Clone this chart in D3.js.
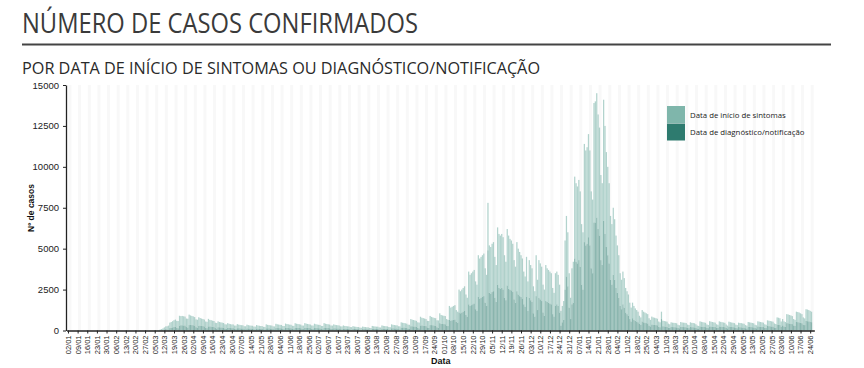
<!DOCTYPE html>
<html>
<head>
<meta charset="utf-8">
<script src="https://cdn.jsdelivr.net/npm/d3@7"></script>
<style>
  body { margin: 0; background: #fff; }
  svg { display: block; }
</style>
</head>
<body>
<svg id="chart"></svg>
<script>
// daily counts from 02/03/2020, one line per week (Mon..Sun)
const firstDay = "2020-03-02"

const onset = [
  2,3,5,8,10,15,20,
  40,60,90,130,170,200,240,
  330,350,380,420,440,430,440,
  600,560,570,560,550,520,540,
  640,580,560,540,520,480,490,
  520,470,450,430,420,380,390,
  460,400,390,370,360,330,340,
  360,320,310,300,290,260,270,
  290,250,240,230,230,210,220,
  250,220,210,200,200,180,190,
  230,200,190,180,180,165,175,
  215,185,180,170,170,155,160,
  240,210,200,195,190,175,180,
  260,230,220,210,210,190,200,
  270,240,230,220,215,195,205,
  285,250,240,230,225,205,215,
  285,255,240,230,225,210,215,
  265,235,220,210,210,190,200,
  290,250,240,230,225,205,215,
  240,210,200,195,190,175,180,
  200,170,165,155,155,145,150,
  170,145,140,130,130,120,125,
  155,135,130,120,120,110,115,
  180,160,150,145,145,130,135,
  200,175,165,160,155,145,150,
  240,215,205,195,195,180,185,
  320,290,280,270,260,245,255,
  440,400,390,375,365,345,355,
  530,470,460,440,430,405,420,
  560,500,480,465,460,430,445,
  600,540,520,510,500,410,380,
  850,800,820,850,880,720,670,
  1400,1350,1400,1450,1500,1250,1150,
  2000,1900,1950,2000,2050,1700,1600,
  2550,2450,2500,2550,2600,2100,1900,
  2900,2900,2850,2950,3000,2500,2250,
  3500,3300,3250,3300,3200,2600,2350,
  3450,3250,3100,3050,2950,2400,2200,
  3000,2800,2700,2550,2450,2000,1850,
  2450,1800,2300,2150,2050,1650,1550,
  2500,1850,2300,2200,2100,1700,1600,
  2200,2050,2000,1950,1900,1600,1450,
  2000,2000,1900,1700,900,1000,1150,
  3000,3700,3300,2100,1300,2200,2500,
  5000,4800,4700,4900,4600,3700,3500,
  6000,5800,5900,6300,5800,4700,4500,
  7300,7400,7600,7000,6600,5200,5000,
  7400,6600,5800,5400,4900,3900,3700,
  4100,3700,3200,2900,2600,2000,1800,
  2000,1800,1500,1400,1300,1000,850,
  950,850,760,700,650,500,450,
  700,650,620,600,570,450,400,
  480,450,440,420,400,320,300,
  450,340,330,320,310,250,220,
  280,270,265,260,250,200,185,
  290,275,270,265,255,205,190,
  280,265,260,250,215,175,160,
  310,295,285,275,265,210,195,
  320,300,290,280,270,215,200,
  310,295,285,275,265,210,170,
  300,285,275,265,255,205,190,
  270,260,255,245,235,190,175,
  290,280,270,260,250,200,185,
  310,300,290,280,270,215,200,
  345,335,325,315,305,245,230,
  440,430,415,310,390,315,295,
  550,540,525,510,490,390,365,
  630,620,605,580,555,445,410,
  720,710,690,665,640
]

const diagnosis = [
  0,1,1,2,3,3,5,
  20,30,40,60,80,60,60,
  150,170,190,210,230,160,140,
  300,320,320,310,300,210,180,
  330,340,330,320,300,200,170,
  290,290,280,270,250,170,140,
  250,250,240,230,220,150,120,
  200,200,190,180,170,120,100,
  160,160,150,140,140,90,80,
  140,140,130,125,120,80,70,
  125,125,120,115,110,75,65,
  120,115,110,105,100,70,60,
  135,135,130,120,115,80,70,
  150,150,145,135,130,90,75,
  155,155,150,140,135,95,80,
  160,165,155,150,140,100,85,
  165,165,160,150,140,100,85,
  150,150,145,140,130,90,80,
  160,165,155,150,140,100,85,
  135,135,130,125,115,80,70,
  110,110,105,100,95,65,55,
  95,95,90,85,80,55,45,
  85,85,80,75,75,50,40,
  100,100,95,90,90,60,50,
  110,110,105,100,95,65,55,
  135,135,130,125,120,80,70,
  180,185,180,170,160,110,95,
  260,260,250,240,225,155,130,
  310,310,300,290,270,185,160,
  330,330,320,305,290,195,170,
  450,410,400,390,380,290,270,
  650,600,630,650,670,530,480,
  1100,1050,1100,1150,1200,950,850,
  1600,1500,1550,1600,1650,1300,1200,
  2050,1950,2000,2050,2100,1700,1500,
  4900,2300,2250,2350,2400,2000,1750,
  2800,2600,2550,2600,2500,2000,1850,
  2750,2550,2500,2450,2350,1900,1700,
  2400,2200,2100,2050,1950,1600,1450,
  2050,1200,2000,1850,1750,1050,850,
  2100,1250,2000,1900,1800,1100,900,
  1800,1750,1700,1650,1600,1000,850,
  1500,1600,1500,1100,300,500,650,
  2500,3300,2700,1400,700,1600,1700,
  4400,4200,4100,4300,3900,2800,2500,
  5400,5200,5300,5700,5200,3800,3500,
  6600,6600,6900,6200,5800,4300,4000,
  6700,5900,5100,4600,4100,3100,2800,
  3400,3100,2600,2300,2000,1500,1300,
  1600,1400,1100,1000,900,700,550,
  750,650,590,550,500,400,350,
  550,500,480,450,430,300,250,
  370,350,340,330,320,230,200,
  700,260,250,240,230,170,160,
  220,210,205,200,190,150,135,
  230,215,210,205,195,155,140,
  220,205,200,190,165,125,120,
  250,235,225,215,205,160,145,
  250,240,230,220,210,165,150,
  250,235,225,215,205,160,130,
  240,225,215,205,195,155,140,
  210,200,195,185,175,140,125,
  230,220,210,200,190,150,135,
  250,240,230,220,210,165,150,
  275,265,255,245,235,185,170,
  360,350,335,240,310,245,225,
  450,440,425,410,390,310,285,
  520,510,495,470,445,355,330,
  580,570,560,535,510
]

const yTicks = [0, 2500, 5000, 7500, 10000, 12500, 15000]
const axisStart = "2020-01-01", axisEnd = "2021-06-27"
const firstTick = "2020-01-02", lastTick = "2021-06-24"
const seriesNames = ["Data de início de sintomas", "Data de diagnóstico/notificação"]
const colors = {onset: "#7fb6ab", diagnosis: "#2e7b6f"}

const width = 864, height = 368
const margin = {top: 85, right: 50, bottom: 37, left: 66}

const parse = d3.timeParse("%Y-%m-%d")
const start = parse(firstDay)

const data = onset.map((v, i) => ({
  date: d3.timeDay.offset(start, i),
  onset: v,
  diagnosis: diagnosis[i]
}))

const svg = d3.select("#chart")
              .attr("width", width)
              .attr("height", height)
              .style("font-family", "Arial, 'Liberation Sans', sans-serif")

// headings
svg.append("text")
   .attr("x", 22).attr("y", 33)
   .attr("font-family", "'Open Sans', sans-serif")
   .attr("font-size", 27)
   .attr("fill", "#3a3a3a")
   .attr("textLength", 396).attr("lengthAdjust", "spacingAndGlyphs")
   .text("NÚMERO DE CASOS CONFIRMADOS")

svg.append("line")
   .attr("x1", 22).attr("x2", 831).attr("y1", 44.5).attr("y2", 44.5)
   .attr("stroke", "#444").attr("stroke-width", 2)

svg.append("text")
   .attr("x", 22).attr("y", 74)
   .attr("font-family", "'Open Sans', sans-serif")
   .attr("font-size", 16.5)
   .attr("fill", "#2a2a2a")
   .attr("textLength", 518).attr("lengthAdjust", "spacingAndGlyphs")
   .text("POR DATA DE INÍCIO DE SINTOMAS OU DIAGNÓSTICO/NOTIFICAÇÃO")

const x = d3.scaleTime()
            .domain([parse(axisStart), parse(axisEnd)])
            .range([margin.left + 0.6, margin.left + 0.6 + 543 * 1.377])

const y = d3.scaleLinear()
            .domain([0, 15000])
            .range([height - margin.bottom - 0.5, margin.top])

const tickDates = d3.timeDay.range(parse(firstTick), d3.timeDay.offset(parse(lastTick), 1), 7)

// faint vertical bands behind the bars
svg.append("g")
   .selectAll("line")
   .data(tickDates)
   .join("line")
   .attr("x1", d => x(d) + 2).attr("x2", d => x(d) + 2)
   .attr("y1", margin.top).attr("y2", y(0))
   .attr("stroke", "#f8f8f8").attr("stroke-width", 3)

const stack = d3.stack().keys(["diagnosis", "onset"])
const layers = stack(data)
const barW = 1.25

svg.append("g")
   .selectAll("g")
   .data(layers)
   .join("g")
   .attr("fill", d => colors[d.key])
   .attr("fill-opacity", d => d.key == "onset" ? 0.6 : 0.55)
   .selectAll("rect")
   .data(d => d)
   .join("rect")
   .attr("x", d => x(d.data.date) - barW / 2)
   .attr("width", barW)
   .attr("y", d => y(d[1]))
   .attr("height", d => y(d[0]) - y(d[1]))

// axes
const yAxis = svg.append("g")
   .attr("transform", `translate(${margin.left},0)`)
   .call(d3.axisLeft(y).tickValues(yTicks).tickFormat(d3.format("d"))
           .tickSize(3).tickSizeOuter(0))
yAxis.selectAll("text").attr("font-size", 9.5).attr("fill", "#222").attr("dx", "-1")
yAxis.select(".domain").attr("stroke", "#222").attr("stroke-width", 1.3)
yAxis.selectAll(".tick line").attr("stroke", "#222")

const xAxis = svg.append("g")
   .attr("transform", `translate(0,${y(0)})`)
   .call(d3.axisBottom(x).tickValues(tickDates).tickFormat(d3.timeFormat("%d/%m"))
           .tickSize(3).tickSizeOuter(0))
xAxis.select(".domain").attr("stroke", "#222").attr("stroke-width", 1.3)
xAxis.selectAll(".tick line").attr("stroke", "#222")
xAxis.selectAll("text")
     .attr("font-size", 7.5)
     .attr("fill", "#222")
     .attr("transform", "rotate(-90)")
     .attr("text-anchor", "end")
     .attr("x", -5).attr("y", 0).attr("dy", "0.32em")

svg.append("text")
   .attr("x", 431).attr("y", 364)
   .attr("font-size", 9).attr("font-weight", "bold").attr("fill", "#111")
   .text("Data")

svg.append("text")
   .attr("transform", "translate(34,208) rotate(-90)")
   .attr("text-anchor", "middle")
   .attr("font-size", 8.5).attr("font-weight", "bold").attr("fill", "#111")
   .text("Nº de casos")

// legend
const legend = svg.append("g").attr("transform", "translate(667,106)")
const legendKeys = ["onset", "diagnosis"]
legend.selectAll("rect")
      .data(legendKeys)
      .join("rect")
      .attr("x", 0).attr("y", (d, i) => i * 17.5)
      .attr("width", 18).attr("height", 17)
      .attr("fill", d => colors[d])
legend.selectAll("text")
      .data(seriesNames)
      .join("text")
      .attr("x", 23).attr("y", (d, i) => 12 + i * 17)
      .attr("font-family", "'Open Sans', sans-serif")
      .attr("font-size", 7.8).attr("fill", "#222")
      .text(d => d)
</script>
</body>
</html>
